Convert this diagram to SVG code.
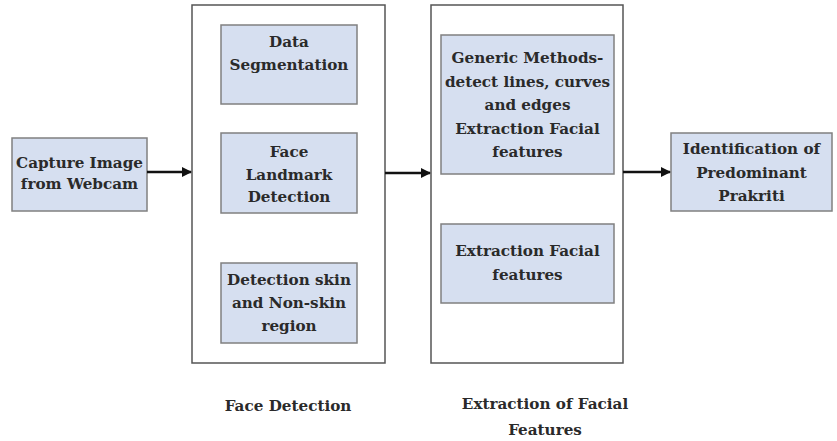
<svg xmlns="http://www.w3.org/2000/svg" width="837" height="441" viewBox="0 0 837 441">
<defs>
<marker id="ah" markerWidth="10" markerHeight="10" refX="9" refY="5" orient="auto" markerUnits="userSpaceOnUse">
<path d="M0,0 L10,5 L0,10 z" fill="#111"/>
</marker>
</defs>
<style>
.box{fill:#d6dff0;stroke:#808080;stroke-width:1.5}
.cont{fill:#fff;stroke:#555;stroke-width:1.5}
text{font-family:"DejaVu Serif","Liberation Serif",serif;font-weight:bold;font-size:15.2px;fill:#2a2a2a;text-anchor:middle}
.conn{stroke:#111;stroke-width:2.5;fill:none;marker-end:url(#ah)}
</style>
<rect width="837" height="441" fill="#fff"/>
<g id="capture">
<rect class="box" x="12" y="138" width="135" height="73"/>
<text x="79.5" y="168">Capture Image</text>
<text x="79.5" y="189">from Webcam</text>
</g>
<g id="face-detection">
<rect class="cont" x="192" y="5" width="193" height="358"/>
</g>
<g id="data-seg">
<rect class="box" x="221" y="25" width="136" height="79"/>
<text x="289" y="47">Data</text>
<text x="289" y="70">Segmentation</text>
</g>
<g id="landmark">
<rect class="box" x="221" y="133" width="136" height="80"/>
<text x="289" y="157">Face</text>
<text x="289" y="180">Landmark</text>
<text x="289" y="202">Detection</text>
</g>
<g id="skin">
<rect class="box" x="221" y="263" width="136" height="80"/>
<text x="289" y="285">Detection skin</text>
<text x="289" y="308">and Non-skin</text>
<text x="289" y="331">region</text>
</g>
<g id="extraction">
<rect class="cont" x="431" y="5" width="192" height="358"/>
</g>
<g id="generic">
<rect class="box" x="441" y="35" width="173" height="139"/>
<text x="527.5" y="63">Generic Methods-</text>
<text x="527.5" y="87">detect lines, curves</text>
<text x="527.5" y="110">and edges</text>
<text x="527.5" y="134">Extraction Facial</text>
<text x="527.5" y="157">features</text>
</g>
<g id="ext-facial">
<rect class="box" x="441" y="224" width="173" height="79"/>
<text x="527.5" y="256">Extraction Facial</text>
<text x="527.5" y="280">features</text>
</g>
<g id="identification">
<rect class="box" x="671" y="133" width="161" height="78"/>
<text x="751.5" y="154">Identification of</text>
<text x="751.5" y="178">Predominant</text>
<text x="751.5" y="201">Prakriti</text>
</g>
<g id="labels">
<text x="288" y="411">Face Detection</text>
<text x="545" y="409">Extraction of Facial</text>
<text x="545" y="435">Features</text>
</g>
<g id="connectors">
<line class="conn" x1="147" y1="172" x2="191" y2="172"/>
<line class="conn" x1="385" y1="173" x2="430" y2="173"/>
<line class="conn" x1="623" y1="172" x2="670" y2="172"/>
</g>
</svg>
